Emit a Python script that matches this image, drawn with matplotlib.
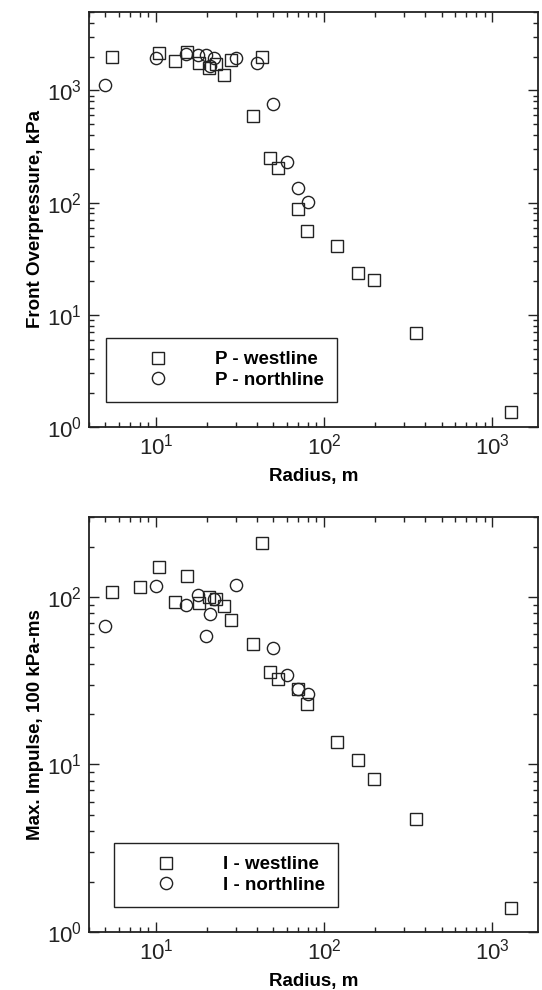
import numpy as np
import matplotlib
matplotlib.use("Agg")
import matplotlib.pyplot as plt
from matplotlib.ticker import LogLocator, NullFormatter

plt.rcParams['font.family'] = ['Liberation Sans', 'DejaVu Sans']
plt.rcParams['mathtext.default'] = 'regular'

# --- pressure panel ---
p_west_r = [5.5, 10.5, 13.0, 15.4, 18.0, 20.6, 22.9, 25.5, 28.0, 43.0,
            37.8, 47.9, 52.9, 69.8, 79.6, 119.5, 160, 199, 350, 1300]
p_west_v = [1980, 2170, 1820, 2190, 1750, 1580, 1710, 1380, 1850, 1980,
            595, 252, 203, 87, 55.8, 41, 23.8, 20.3, 6.95, 1.35]
p_north_r = [4.97, 10.0, 15.1, 17.9, 19.95, 22.0, 20.9, 30.0, 40.0, 49.9,
             59.8, 70.2, 80.0]
p_north_v = [1120, 1950, 2120, 2080, 2050, 1950, 1640, 1930, 1770, 750,
             232, 136, 102]

# --- impulse panel ---
i_west_r = [5.5, 8.0, 10.5, 15.4, 13.0, 18.0, 20.6, 22.9, 25.5, 28.0,
            43.0, 37.8, 47.9, 52.9, 69.8, 79.6, 119.5, 160, 199, 350, 1300]
i_west_v = [107, 115, 150, 133, 93, 92.5, 99.6, 96.9, 88, 72.6,
            209, 52.6, 35.6, 32.3, 28.1, 23.0, 13.6, 10.7, 8.17, 4.71, 1.40]
i_north_r = [4.97, 10.0, 15.1, 17.9, 19.95, 20.9, 22.0, 30.0, 49.9, 59.8,
             70.2, 80.0]
i_north_v = [67.4, 116, 89.6, 102, 58.8, 79.2, 97.3, 118, 49.8, 34.1,
             28.1, 26.4]

fig = plt.figure(figsize=(5.42, 9.9), dpi=100)
ax1 = fig.add_axes([89/542, 1-427/990, 449/542, 415/990])
ax2 = fig.add_axes([89/542, 1-932/990, 449/542, 415/990])

ec = '#222222'


def style(ax, ylim, ylabel, legend_x, labels, west, north):
    ax.plot(west[0], west[1], 's', ms=8, mfc='none', mec=ec, mew=1.0,
            linestyle='none', label=labels[0])
    ax.plot(north[0], north[1], 'o', ms=8.8, mfc='none', mec=ec, mew=1.0,
            linestyle='none', label=labels[1])
    ax.set_xscale('log')
    ax.set_yscale('log')
    ax.set_xlim(4, 1870)
    ax.set_ylim(*ylim)
    ax.xaxis.set_major_locator(LogLocator(base=10, numticks=10))
    ax.xaxis.set_minor_locator(LogLocator(base=10, subs=np.arange(2, 10), numticks=20))
    ax.yaxis.set_major_locator(LogLocator(base=10, numticks=10))
    ax.yaxis.set_minor_locator(LogLocator(base=10, subs=np.arange(2, 10), numticks=20))
    ax.xaxis.set_minor_formatter(NullFormatter())
    ax.yaxis.set_minor_formatter(NullFormatter())
    ax.tick_params(which='both', direction='in', top=True, right=True,
                   labelsize=16, width=1, colors='#222222', pad=5)
    ax.tick_params(which='major', length=7)
    ax.tick_params(which='minor', length=3.5)
    for s in ax.spines.values():
        s.set_linewidth(1.3)
        s.set_color('#222222')
    ax.set_xlabel('Radius, m', fontsize=13.5, fontweight='bold', labelpad=6)
    ax.set_ylabel(ylabel, fontsize=13.5, fontweight='bold', labelpad=2)
    leg = ax.legend(loc='lower left', bbox_to_anchor=(legend_x, 0.06),
                    borderaxespad=0, fancybox=False, framealpha=1,
                    edgecolor='#222222', handlelength=4.1, handletextpad=1.0,
                    borderpad=0.7, labelspacing=0.2,
                    prop={'size': 13.5, 'weight': 'bold'})
    leg.get_frame().set_linewidth(1.0)


style(ax1, (1, 5000), 'Front Overpressure, kPa', 0.038,
      ['P - westline', 'P - northline'], (p_west_r, p_west_v), (p_north_r, p_north_v))
style(ax2, (1, 300), 'Max. Impulse, 100 kPa-ms', 0.056,
      ['I - westline', 'I - northline'], (i_west_r, i_west_v), (i_north_r, i_north_v))

fig.savefig('out.png', dpi=100)
